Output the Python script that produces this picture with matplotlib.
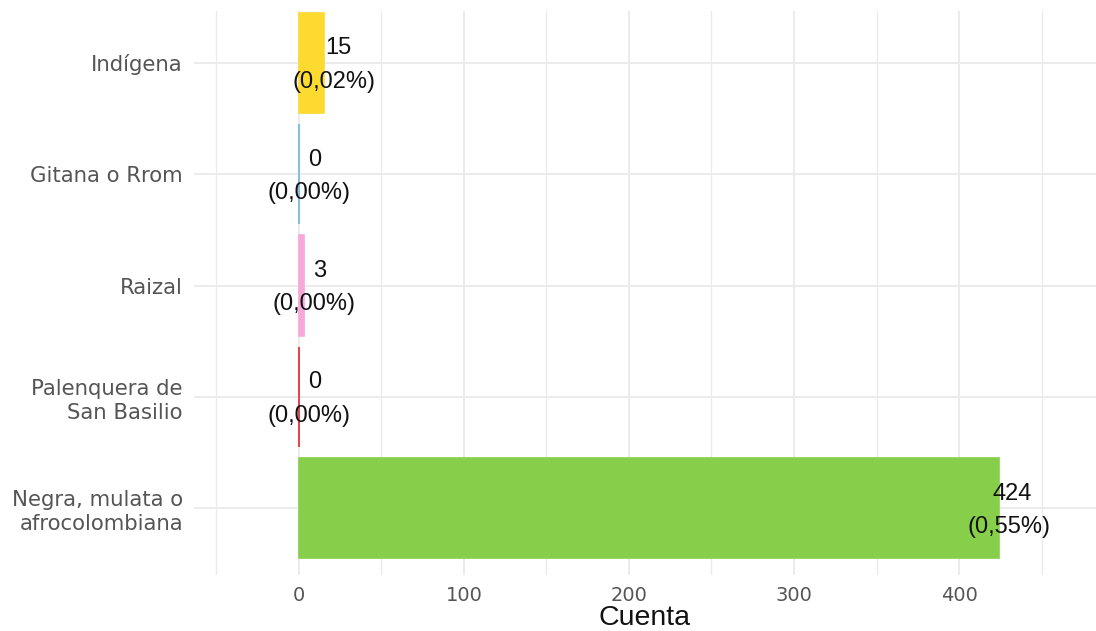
import matplotlib
matplotlib.use("Agg")
import matplotlib.pyplot as plt
from matplotlib.ticker import MultipleLocator

categories = ["Negra, mulata o\nafrocolombiana", "Palenquera de\nSan Basilio", "Raizal",
              "Gitana o Rrom", "Indígena"]
counts = [424, 0, 3, 0, 15]
percents = ["0,55%", "0,00%", "0,00%", "0,00%", "0,02%"]
colors = ["#87CE4A", "#E8232F", "#F7A8D8", "#6DB6E8", "#FDDA2F"]

fig = plt.figure(figsize=(10.96, 6.31), dpi=100)
ax = fig.add_axes([0.177, 0.0887, 0.823, 0.894])

pos = list(range(1, len(categories) + 1))
ax.barh(pos, counts, height=0.9, color=colors, edgecolor=colors, linewidth=1.2, zorder=2)

HJ = 0.58      # per-line horizontal justification (like grid hjust)
X0 = 12.0      # base offset in points from the bar end
labels = []
for p, c, pct in zip(pos, counts, percents):
    for txt, dy in ((f"{c}", 10.5), (f"({pct})", -13.6)):
        a = ax.annotate(txt, (c, p), xytext=(X0, dy), textcoords="offset points",
                        ha="center", va="center", fontsize=17, family="Liberation Sans",
                        color="#111111", zorder=3)
        labels.append((a, dy))

ax.set_xlim(-63.6, 483)
ax.set_ylim(0.4, 5.467)
ax.set_yticks(pos)
ax.set_yticklabels(categories, fontsize=15.3, color="#555555", family="DejaVu Sans",
                   linespacing=1.25)
ax.xaxis.set_minor_locator(MultipleLocator(50))
ax.set_xticks([0, 100, 200, 300, 400])
ax.set_xticklabels(["0", "100", "200", "300", "400"], fontsize=14, color="#555555",
                   family="DejaVu Sans")

ax.grid(True, which="major", axis="both", color="#EBEBEB", linewidth=1.4, zorder=0)
ax.grid(True, which="minor", axis="x", color="#EBEBEB", linewidth=1.0, zorder=0)
ax.set_axisbelow(True)
ax.tick_params(axis="both", which="both", length=0)
ax.tick_params(axis="y", pad=8)
ax.tick_params(axis="x", pad=8)
for s in ax.spines.values():
    s.set_visible(False)

ax.set_xlabel("Cuenta", fontsize=20.5, family="Liberation Sans", color="#111111", labelpad=0)

fig.canvas.draw()
r = fig.canvas.get_renderer()
for a, dy in labels:
    w_pt = a.get_window_extent(r).width * 72.0 / fig.dpi
    a.xyann = (X0 + (0.5 - HJ) * w_pt, dy)

fig.savefig("out.png", dpi=100)
